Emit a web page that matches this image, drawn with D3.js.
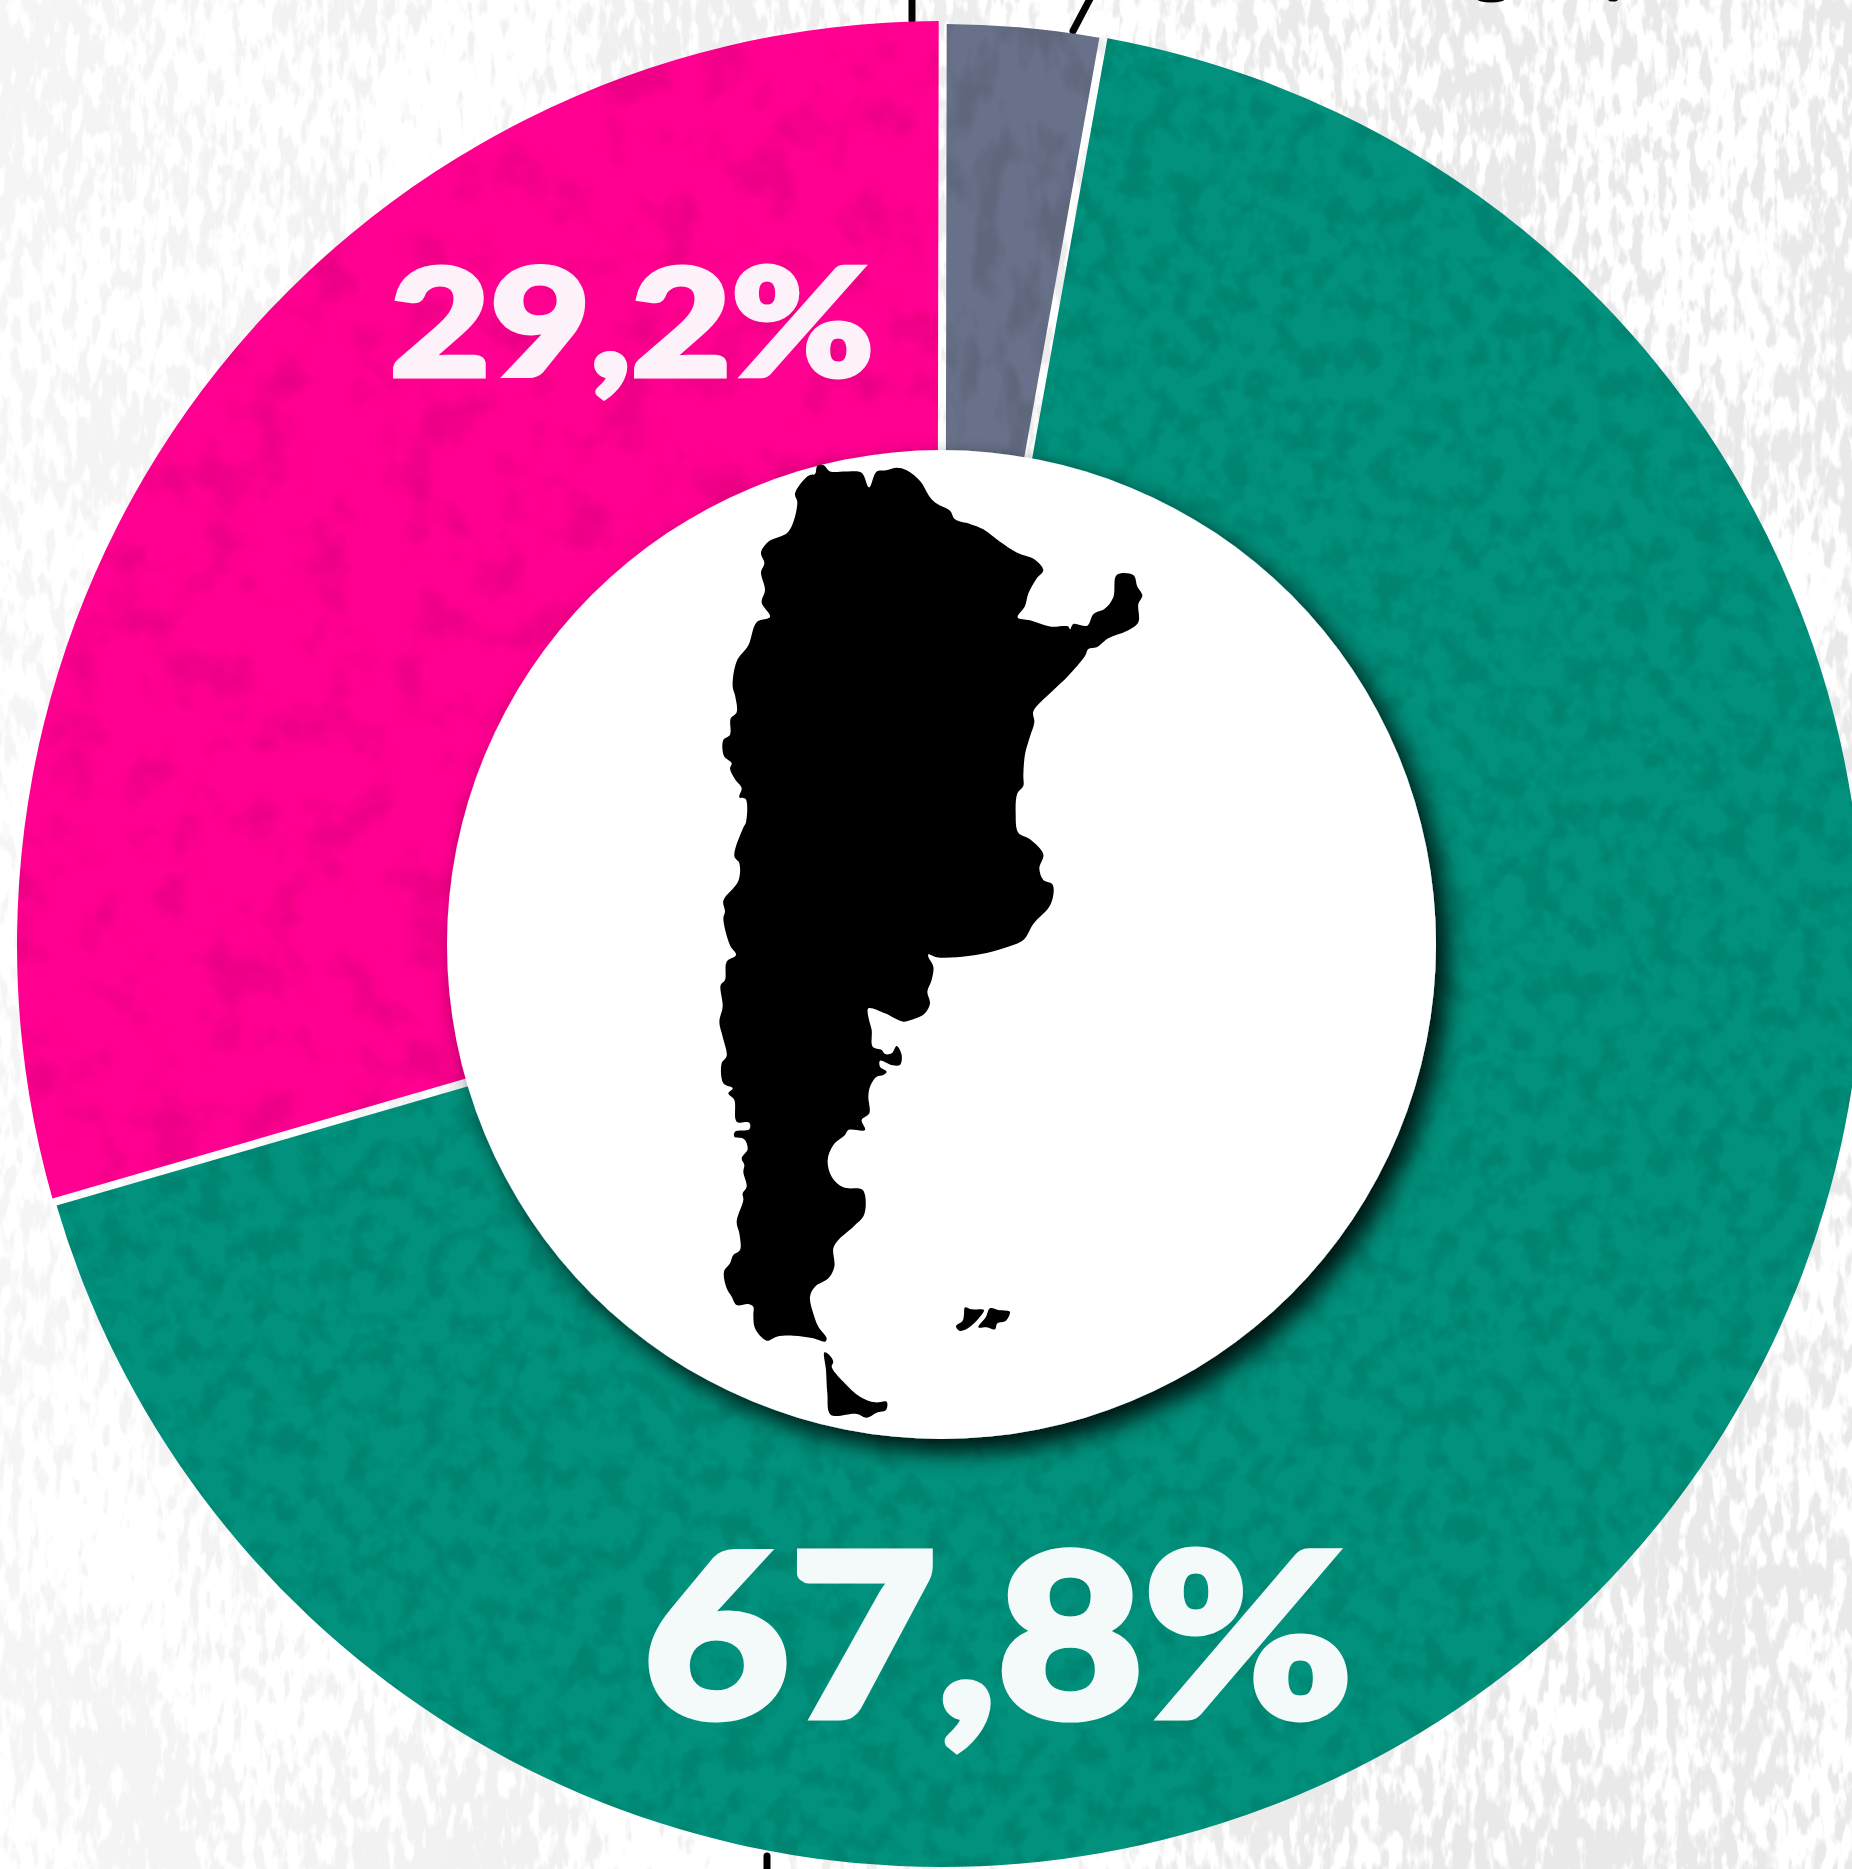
<!DOCTYPE html>
<html>
<head>
<meta charset="utf-8">
<style>html,body{margin:0;padding:0;background:#fff;overflow:hidden}svg{display:block}</style>
<script src="https://cdnjs.cloudflare.com/ajax/libs/d3/7.8.5/d3.min.js"></script>
</head>
<body>
<div id="chart"></div>
<script>
// Segments, in drawing order clockwise from the teal slice.
const categories = ["teal", "pink", "gray"];
// Angular share of the ring as measured on the picture (the printed labels differ slightly).
const ringShares = [67.69, 29.52, 2.79];
const sliceColors = ["#01917c", "#ff0090", "#687189"];
const sliceRadii = [922, 924, 921];
const labelTexts = ["67,8%", "29,2%"];

// Map outline: [x, y] in crop pixels.
const mapNorth = [[405,95],[412,72],[430,70],[450,88],[500,88],[545,92],[567,133],[590,88],[620,85],[650,78],[680,85],[720,115],[750,160],[770,178],[810,198],[825,222],[870,235],[910,250],[960,285],[1010,315],[1065,335],[1090,365],[1070,388],[1045,430],[1035,465],[1013,497],[1050,505],[1110,522],[1165,522],[1170,530],[1180,515],[1222,520],[1240,488],[1275,472],[1300,440],[1310,378],[1360,378],[1372,410],[1387,435],[1375,460],[1375,510],[1340,535],[1285,555],[1250,580],[1225,585],[1215,605],[1165,660],[1115,705],[1060,760],[1063,790],[1050,830],[1035,880],[1030,940],[1030,968],[1012,990],[1007,1045],[1015,1100],[1050,1118],[1090,1160],[1078,1200],[1090,1232],[1118,1245],[1112,1300],[1060,1355],[1030,1400],[980,1420],[900,1440],[830,1448],[770,1448],[745,1440]];
const mapSouth = [[745,20],[760,50],[755,90],[742,125],[750,160],[735,190],[700,208],[670,215],[650,208],[615,190],[565,175],[565,200],[575,240],[578,290],[605,300],[615,312],[635,310],[650,288],[665,315],[660,345],[635,345],[600,332],[600,350],[620,365],[610,375],[590,380],[570,410],[565,440],[568,490],[545,510],[555,540],[505,540],[495,555],[460,585],[443,630],[455,680],[490,712],[545,718],[555,735],[552,795],[520,830],[475,870],[460,895],[463,950],[445,985],[405,1010],[390,1040],[403,1100],[415,1130],[440,1165],[435,1175],[400,1165],[340,1157],[290,1160],[260,1172],[225,1135],[220,1095],[220,1070],[205,1062],[170,1065],[155,1040],[140,1015],[132,965],[150,940],[160,915],[180,900],[178,850],[170,815],[190,750],[188,730],[200,710],[190,665],[193,645],[185,625],[203,597],[192,567],[163,560],[165,545],[208,538],[208,518],[170,515],[163,450],[145,430],[158,415],[130,400],[125,340],[140,318],[128,260],[118,215],[128,170],[122,105],[135,90],[140,35],[168,15]];
const mapWest = [[150,1415],[130,1340],[135,1320],[130,1290],[175,1235],[178,1185],[163,1165],[190,1085],[198,1070],[197,1005],[178,1000],[185,975],[165,950],[150,920],[155,905],[132,885],[130,840],[150,825],[152,780],[170,762],[165,715],[158,690],[170,620],[205,575],[230,510],[270,495],[245,455],[255,420],[243,370],[253,345],[243,315],[265,285],[325,257],[352,175],[345,150],[385,100]];
const mapFuego = [[433,1207],[445,1212],[460,1235],[455,1250],[490,1295],[540,1340],[585,1357],[620,1355],[618,1380],[590,1388],[560,1403],[530,1392],[452,1394],[442,1330],[438,1260]];
const mapIslandW = [[855,1072],[875,1078],[905,1078],[912,1081],[892,1110],[860,1137],[838,1142],[828,1128],[848,1112],[852,1092]];
const mapIslandE = [[930,1075],[955,1080],[985,1083],[990,1086],[978,1112],[952,1120],[945,1138],[920,1132],[895,1132],[918,1100]];

const W = 1852, H = 1869, cx = 941, cy = 945, deg = Math.PI / 180;

const svg = d3.select("#chart").append("svg").attr("width", W).attr("height", H).attr("viewBox", `0 0 ${W} ${H}`);
const defs = svg.append("defs");

// Paper texture of the background
const bgF = defs.append("filter").attr("id", "paper").attr("filterUnits", "userSpaceOnUse")
  .attr("x", 0).attr("y", 0).attr("width", W).attr("height", H).attr("color-interpolation-filters", "sRGB");
bgF.append("feTurbulence").attr("type", "fractalNoise").attr("baseFrequency", "0.09 0.03").attr("numOctaves", 3).attr("seed", 11).attr("result", "fine");
bgF.append("feTurbulence").attr("type", "fractalNoise").attr("baseFrequency", "0.005 0.004").attr("numOctaves", 2).attr("seed", 4).attr("result", "coarse");
bgF.append("feComposite").attr("in", "fine").attr("in2", "coarse").attr("operator", "arithmetic")
  .attr("k1", 0).attr("k2", 0.75).attr("k3", 0.55).attr("k4", 0).attr("result", "mix");
bgF.append("feColorMatrix").attr("in", "mix").attr("type", "matrix")
  .attr("values", "0 0 0 0 0.915  0 0 0 0 0.915  0 0 0 0 0.915  11 0 0 0 -5.1").attr("result", "blots");
bgF.append("feMerge").call(m => { m.append("feMergeNode").attr("in", "SourceGraphic"); m.append("feMergeNode").attr("in", "blots"); });

// The paper is paler on the left side
const fade = defs.append("linearGradient").attr("id", "paperFade");
fade.append("stop").attr("offset", "0").attr("stop-color", "#fff").attr("stop-opacity", 0.55);
fade.append("stop").attr("offset", "0.45").attr("stop-color", "#fff").attr("stop-opacity", 0.25);
fade.append("stop").attr("offset", "0.8").attr("stop-color", "#fff").attr("stop-opacity", 0);

// Grain used on the coloured slices
function grain(id, freq, seed, strength, thresholdGain, thresholdOff) {
  const f = defs.append("filter").attr("id", id).attr("filterUnits", "userSpaceOnUse")
    .attr("x", 0).attr("y", 0).attr("width", W).attr("height", H).attr("color-interpolation-filters", "sRGB");
  f.append("feTurbulence").attr("type", "fractalNoise").attr("baseFrequency", freq).attr("numOctaves", 3).attr("seed", seed).attr("result", "n");
  f.append("feColorMatrix").attr("in", "n").attr("type", "matrix")
    .attr("values", `0 0 0 0 0  0 0 0 0 0  0 0 0 0 0  ${thresholdGain} 0 0 0 ${thresholdOff}`).attr("result", "a");
  f.append("feComponentTransfer").attr("in", "a").attr("result", "b")
    .append("feFuncA").attr("type", "linear").attr("slope", strength);
  f.append("feComposite").attr("in", "b").attr("in2", "SourceAlpha").attr("operator", "in").attr("result", "c");
  f.append("feMerge").call(m => { m.append("feMergeNode").attr("in", "SourceGraphic"); m.append("feMergeNode").attr("in", "c"); });
}
grain("grain-teal", "0.04 0.035", 7, 0.09, 4, -1.8);
grain("grain-pink", "0.02 0.02", 3, 0.07, 4, -2);
grain("grain-gray", "0.035 0.015", 5, 0.09, 4, -1.8);

const shadow = defs.append("filter").attr("id", "discShadow").attr("filterUnits", "userSpaceOnUse")
  .attr("x", 0).attr("y", 0).attr("width", W).attr("height", H);
shadow.append("feDropShadow").attr("dx", 12).attr("dy", 13).attr("stdDeviation", 12)
  .attr("flood-color", "#000").attr("flood-opacity", 0.88);

svg.append("rect").attr("width", W).attr("height", H).attr("fill", "#fff").attr("filter", "url(#paper)");
svg.append("rect").attr("width", W).attr("height", H).attr("fill", "url(#paperFade)");

// Leader lines cut by the crop
const leaders = [[[912, -5], [912, 20]], [[1092, -5], [1073, 31]], [[767, 1856], [767, 1875]]];
svg.append("g").selectAll("path").data(leaders).join("path")
  .attr("d", d3.line()).attr("fill", "none").attr("stroke", "#000")
  .attr("stroke-width", 7).attr("stroke-linecap", "round");

// Bits of cropped lettering at the top edge
svg.append("g").selectAll("ellipse").data([[1491, -1, 14, 3.5], [1613, -1, 5, 2.5]]).join("ellipse")
  .attr("cx", d => d[0]).attr("cy", d => d[1]).attr("rx", d => d[2]).attr("ry", d => d[3]).attr("fill", "#000");

// Ring
const pie = d3.pie().sort(null).value(d => d)
  .startAngle(10.15 * deg).endAngle(370.15 * deg);
const arc = d3.arc().innerRadius(470).outerRadius(d => sliceRadii[d.index])
  .padRadius(1000).padAngle(0.008);
svg.append("g").selectAll("g").data(pie(ringShares)).join("g")
  .attr("filter", (d, i) => `url(#grain-${categories[i]})`)
  .append("path")
  .attr("transform", `translate(${cx},${cy})`)
  .attr("d", arc)
  .attr("fill", (d, i) => sliceColors[i]);

// Central disc
svg.append("circle").attr("cx", 941.5).attr("cy", 944.5).attr("r", 494.5)
  .attr("fill", "#fff").attr("filter", "url(#discShadow)");

// Map
const p2 = ([x, y]) => [680 + x / 3, 440 + y / 2.8];
const p3 = ([x, y]) => [680 + x / 3, 950 + y / 3];
const closed = d3.line().curve(d3.curveCatmullRomClosed.alpha(0.5));
const mainland = [...mapNorth.map(p2), ...mapSouth.map(p3), ...mapWest.map(p2)];
svg.append("g").attr("fill", "#000").selectAll("path")
  .data([mainland, mapFuego.map(p3), mapIslandW.map(p3), mapIslandE.map(p3)]).join("path")
  .attr("d", closed);

// Labels
const labelFont = "Lato, 'Noto Sans', sans-serif";
svg.append("text").text(labelTexts[0])
  .attr("x", 643).attr("y", 1717)
  .attr("font-family", labelFont).attr("font-weight", 900).attr("font-size", 228)
  .attr("fill", "#f4fafa").attr("stroke", "#f4fafa").attr("stroke-width", 7).attr("stroke-linejoin", "miter").attr("stroke-miterlimit", 3)
  .attr("textLength", 710).attr("lengthAdjust", "spacingAndGlyphs");
svg.append("text").text(labelTexts[1])
  .attr("x", 390).attr("y", 376)
  .attr("font-family", labelFont).attr("font-weight", 900).attr("font-size", 149)
  .attr("fill", "#fdf2f9").attr("stroke", "#fdf2f9").attr("stroke-width", 5).attr("stroke-linejoin", "miter").attr("stroke-miterlimit", 3)
  .attr("textLength", 484).attr("lengthAdjust", "spacingAndGlyphs");
</script>
</body>
</html>
